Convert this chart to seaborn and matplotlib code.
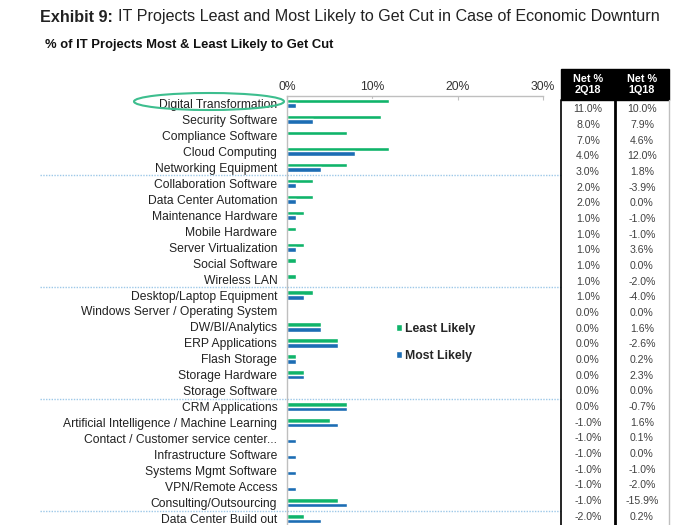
import numpy as np
import pandas as pd
import matplotlib
matplotlib.use("Agg")
import matplotlib.pyplot as plt
import matplotlib.patches as mpatches
import seaborn as sns

projects = [
    "Digital Transformation", "Security Software", "Compliance Software",
    "Cloud Computing", "Networking Equipment", "Collaboration Software",
    "Data Center Automation", "Maintenance Hardware", "Mobile Hardware",
    "Server Virtualization", "Social Software", "Wireless LAN",
    "Desktop/Laptop Equipment", "Windows Server / Operating System",
    "DW/BI/Analytics", "ERP Applications", "Flash Storage", "Storage Hardware",
    "Storage Software", "CRM Applications",
    "Artificial Intelligence / Machine Learning",
    "Contact / Customer service center...", "Infrastructure Software",
    "Systems Mgmt Software", "VPN/Remote Access", "Consulting/Outsourcing",
    "Data Center Build out",
]
least_likely = [12, 11, 7, 12, 7, 3, 3, 2, 1, 2, 1, 1, 3, 0, 4, 6, 1, 2, 0, 7, 5, 0, 0, 0, 0, 6, 2]
most_likely = [1, 3, 0, 8, 4, 1, 1, 1, 0, 1, 0, 0, 2, 0, 4, 6, 1, 2, 0, 7, 6, 1, 1, 1, 1, 7, 4]
net_2q18 = ["11.0%", "8.0%", "7.0%", "4.0%", "3.0%", "2.0%", "2.0%", "1.0%", "1.0%",
            "1.0%", "1.0%", "1.0%", "1.0%", "0.0%", "0.0%", "0.0%", "0.0%", "0.0%",
            "0.0%", "0.0%", "-1.0%", "-1.0%", "-1.0%", "-1.0%", "-1.0%", "-1.0%", "-2.0%"]
net_1q18 = ["10.0%", "7.9%", "4.6%", "12.0%", "1.8%", "-3.9%", "0.0%", "-1.0%", "-1.0%",
            "3.6%", "0.0%", "-2.0%", "-4.0%", "0.0%", "1.6%", "-2.6%", "0.2%", "2.3%",
            "0.0%", "-0.7%", "1.6%", "0.1%", "0.0%", "-1.0%", "-2.0%", "-15.9%", "0.2%"]
x_ticks = [0, 10, 20, 30]
group_breaks = [4.5, 11.5, 18.5, 25.5]

GREEN = "#10B46A"
BLUE = "#1C6DB4"
GREY = "#BFBFBF"

df = pd.DataFrame({
    "Project": projects * 2,
    "Pct": least_likely + most_likely,
    "Series": ["Least Likely"] * len(projects) + ["Most Likely"] * len(projects),
})

sns.set_style("white")
plt.rcParams["font.family"] = ["Liberation Sans", "DejaVu Sans"]

W, H = 700, 525
fig = plt.figure(figsize=(7, 5.25), dpi=100)


def fx(px):
    return px / W


def fy(py):
    return 1 - py / H


# axes: 0% at x=287, 30% at x=543; row -0.5 at y=95.5, row 26.5 at y=526.5
ax = fig.add_axes([fx(287), fy(526.5), (543 - 287) / W, 431 / H])
sns.barplot(data=df, y="Project", x="Pct", hue="Series", orient="h",
            palette=[GREEN, BLUE], saturation=1, width=0.58, ax=ax)
ax.set_xlim(0, 30)
ax.set_ylim(26.5, -0.5)
ax.set_xlabel("")
ax.set_ylabel("")

ax.xaxis.tick_top()
ax.set_xticks(x_ticks)
ax.set_xticklabels([f"{t}%" for t in x_ticks])
ax.tick_params(axis="x", direction="in", length=3, color=GREY, pad=2,
               labelsize=8.7, labelcolor="#333333")
ax.tick_params(axis="y", length=0, pad=7, labelsize=8.7, labelcolor="#222222")
ax.set_yticks(np.arange(len(projects) + 1) - 0.5, minor=True)
ax.tick_params(axis="y", which="minor", direction="out", length=3, color=GREY)
for s in ["right", "bottom"]:
    ax.spines[s].set_visible(False)
for s in ["top", "left"]:
    ax.spines[s].set_color(GREY)
    ax.spines[s].set_linewidth(1)

# dotted group separators
trans = matplotlib.transforms.blended_transform_factory(ax.transAxes, ax.transData)
x0 = (40 - 287) / (543 - 287)
x1 = (561 - 287) / (543 - 287)
for b in group_breaks:
    ax.plot([x0, x1], [b, b], transform=trans, color="#9DC8E8", lw=1,
            ls=(0, (1, 1)), clip_on=False)

# legend
sns.move_legend(ax, loc="upper left", bbox_to_anchor=(fx(385), fy(312)),
                bbox_transform=fig.transFigure, frameon=False, title=None,
                handlelength=0.5, handleheight=0.5, handletextpad=0.25,
                labelspacing=1.25, prop={"weight": "bold", "size": 8.8})

# highlight ellipse
fig.add_artist(mpatches.Ellipse((fx(209), fy(101.5)), 150 / W, 17 / H,
                                transform=fig.transFigure, fill=False,
                                edgecolor="#3DBE8E", lw=1.5))

# titles
t1 = fig.text(fx(40), fy(17), "Exhibit 9:", fontsize=11.6, fontweight="bold",
              va="center", ha="left", color="#222222")
fig.canvas.draw()
bb = t1.get_window_extent()
fig.text(bb.x1 / W + fx(5), fy(17), "IT Projects Least and Most Likely to Get Cut in Case of Economic Downturn",
         fontsize=11.6, va="center", ha="left", color="#222222")
fig.text(fx(45), fy(45), "% of IT Projects Most & Least Likely to Get Cut",
         fontsize=9.4, fontweight="bold", va="center", ha="left", color="#111111")

# table
L, M, R = 561, 615, 669
fig.add_artist(mpatches.Rectangle((fx(L), fy(100)), (R - L) / W, 31 / H,
                                  transform=fig.transFigure, color="black"))
for cx, q in [((L + M) / 2, "2Q18"), ((M + R) / 2, "1Q18")]:
    fig.text(fx(cx), fy(84.5), f"Net %\n{q}", color="white", fontsize=7.8,
             fontweight="bold", ha="center", va="center", linespacing=1.1)
fig.add_artist(plt.Line2D([fx(L), fx(L)], [fy(100), 0], color="black", lw=1.2,
                          transform=fig.transFigure))
fig.add_artist(plt.Line2D([fx(M), fx(M)], [fy(100), 0], color="black", lw=2,
                          transform=fig.transFigure))
fig.add_artist(plt.Line2D([fx(R), fx(R)], [fy(100), 0], color=GREY, lw=1,
                          transform=fig.transFigure))
for i, (a, b) in enumerate(zip(net_2q18, net_1q18)):
    y = fy(109.3 + 15.67 * i)
    fig.text(fx((L + M) / 2), y, a, fontsize=7.6, ha="center", va="center", color="#404040")
    fig.text(fx((M + R) / 2), y, b, fontsize=7.6, ha="center", va="center", color="#404040")

fig.savefig("out.png", dpi=100)
